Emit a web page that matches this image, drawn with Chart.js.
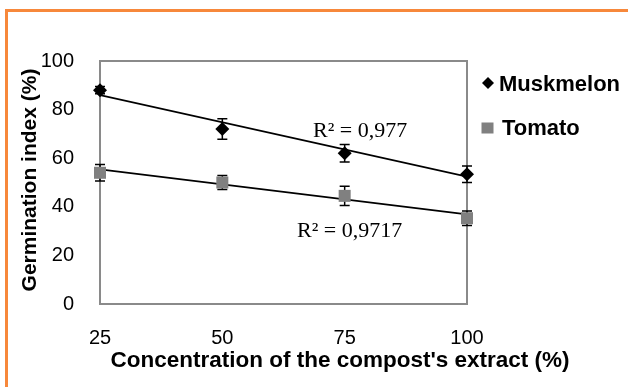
<!DOCTYPE html>
<html>
<head>
<meta charset="utf-8">
<script src="https://cdn.jsdelivr.net/npm/chart.js@4.4.1/dist/chart.umd.min.js"></script>
<style>
  html, body { margin: 0; padding: 0; background: #fff; overflow: hidden; }
  .frame {
    position: absolute; left: 5px; top: 9px; width: 800px; height: 600px;
    border-left: 3px solid #f7883b; border-top: 3px solid #f7883b;
  }
  canvas { position: absolute; left: 0; top: 0; }
</style>
</head>
<body>
<div class="frame"></div>
<canvas id="chart" width="628" height="387"></canvas>
<script>
// values
const concentrations = [25, 50, 75, 100];
const muskmelon = [88, 72, 62, 53.4];
const muskmelonErr = [1.5, 4.2, 3.6, 3.4];
const tomato = [54, 50, 44.5, 35.3];
const tomatoErr = [3.4, 2.9, 4, 3];

// trendline end points (Excel linear fit, as drawn)
const trendX = [25, 100];
const muskmelonTrend = [86, 52.4];
const tomatoTrend = [55.4, 36.9];

const xTicks = [25, 50, 75, 100];
const yTicks = [0, 20, 40, 60, 80, 100];
const r2Labels = ['R\u00b2 = 0,977', 'R\u00b2 = 0,9717'];

const toPoints = (xs, ys) => xs.map((x, i) => ({ x: x, y: ys[i] }));

const ctx = document.getElementById('chart').getContext('2d');

// plot box, error bars, legend, R² labels and axis titles
const extras = {
  id: 'extras',
  beforeDatasetsDraw(chart) {
    const c = chart.ctx;
    const a = chart.chartArea;
    const xs = chart.scales.x, ys = chart.scales.y;
    c.save();
    c.strokeStyle = '#8a8a8a';
    c.lineWidth = 2;
    c.strokeRect(a.left, a.top, a.right - a.left, a.bottom - a.top);

    // error bars
    c.strokeStyle = '#000';
    c.lineWidth = 1.5;
    [[muskmelon, muskmelonErr], [tomato, tomatoErr]].forEach(([vals, errs]) => {
      vals.forEach((v, i) => {
        const px = xs.getPixelForValue(concentrations[i]);
        const top = ys.getPixelForValue(v + errs[i]);
        const bot = ys.getPixelForValue(v - errs[i]);
        c.beginPath();
        c.moveTo(px, top); c.lineTo(px, bot);
        c.moveTo(px - 5, top); c.lineTo(px + 5, top);
        c.moveTo(px - 5, bot); c.lineTo(px + 5, bot);
        c.stroke();
      });
    });
    c.restore();
  },
  afterDraw(chart) {
    const c = chart.ctx;
    const a = chart.chartArea;
    c.save();

    // legend
    c.fillStyle = '#000';
    c.beginPath();
    c.moveTo(488, 77); c.lineTo(494, 83); c.lineTo(488, 89); c.lineTo(482, 83);
    c.closePath();
    c.fill();
    c.fillStyle = '#808080';
    c.fillRect(481.5, 122.5, 12, 11);
    c.fillStyle = '#000';
    c.font = 'bold 22px "Liberation Sans", Arial, sans-serif';
    c.textAlign = 'left';
    c.textBaseline = 'alphabetic';
    c.fillText(chart.data.datasets[0].label, 499, 91);
    c.fillText(chart.data.datasets[1].label, 502, 135);

    // R² labels
    c.font = '22px "Liberation Serif", "Times New Roman", serif';
    c.fillText(r2Labels[0], a.left + 213, 137);
    c.fillText(r2Labels[1], a.left + 197, 237);

    // x axis title
    c.font = 'bold 22.5px "Liberation Sans", Arial, sans-serif';
    c.textAlign = 'center';
    c.fillText('Concentration of the compost\'s extract (%)', 340, 367);

    // y axis title
    c.font = 'bold 21px "Liberation Sans", Arial, sans-serif';
    c.translate(36, 180);
    c.rotate(-Math.PI / 2);
    c.fillText('Germination index (%)', 0, 0);
    c.restore();
  }
};

new Chart(ctx, {
  type: 'scatter',
  data: {
    datasets: [
      {
        label: 'Muskmelon',
        data: toPoints(concentrations, muskmelon),
        pointStyle: 'rectRot',
        pointRadius: 7,
        backgroundColor: '#000',
        borderColor: '#000',
        borderWidth: 0,
        clip: false,
        order: 0
      },
      {
        label: 'Tomato',
        data: toPoints(concentrations, tomato),
        pointStyle: 'rect',
        pointRadius: 8.5,
        backgroundColor: '#808080',
        borderColor: '#808080',
        borderWidth: 0,
        clip: false,
        order: 0
      },
      {
        label: 'Muskmelon trend',
        type: 'line',
        data: toPoints(trendX, muskmelonTrend),
        borderColor: '#000',
        borderWidth: 1.8,
        pointRadius: 0,
        fill: false,
        order: 1
      },
      {
        label: 'Tomato trend',
        type: 'line',
        data: toPoints(trendX, tomatoTrend),
        borderColor: '#000',
        borderWidth: 1.8,
        pointRadius: 0,
        fill: false,
        order: 1
      }
    ]
  },
  options: {
    responsive: false,
    animation: false,
    layout: { padding: { left: 0, top: 61, right: 161, bottom: 0 } },
    scales: {
      x: {
        type: 'linear',
        min: 25,
        max: 100,
        afterBuildTicks: (scale) => { scale.ticks = xTicks.map(v => ({ value: v })); },
        afterFit: (scale) => { scale.height = 83; },
        grid: { display: false },
        border: { display: false },
        ticks: {
          color: '#000',
          padding: 14,
          font: { size: 20, family: '"Liberation Sans", Arial, sans-serif' }
        }
      },
      y: {
        min: 0,
        max: 100,
        afterBuildTicks: (scale) => { scale.ticks = yTicks.map(v => ({ value: v })); },
        afterFit: (scale) => { scale.width = 100; },
        grid: { display: false },
        border: { display: false },
        ticks: {
          color: '#000',
          padding: 18,
          font: { size: 20, family: '"Liberation Sans", Arial, sans-serif' }
        }
      }
    },
    plugins: {
      legend: { display: false },
      tooltip: { enabled: false }
    }
  },
  plugins: [extras]
});
</script>
</body>
</html>
